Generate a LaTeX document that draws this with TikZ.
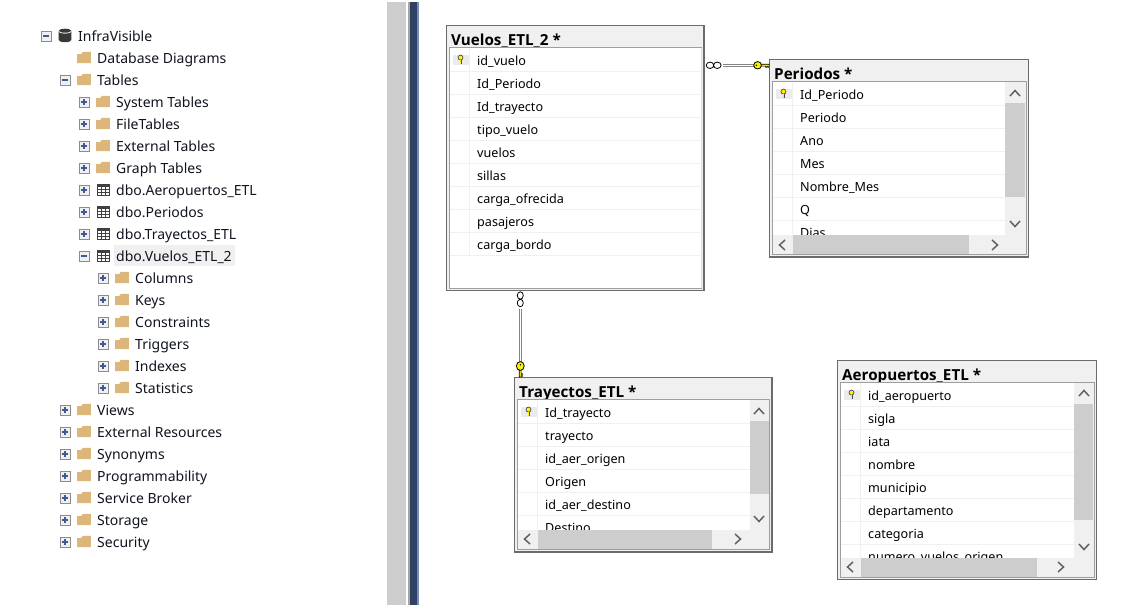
\documentclass[tikz,border=0pt]{standalone}
\usepackage{fontspec}
\setmainfont{Noto Sans}
\newfontfamily\titlefont{Open Sans}
\usetikzlibrary{
  positioning,
  calc
}
\definecolor{folderc}{HTML}{DCB67A}
\definecolor{panelc}{HTML}{F0F0F0}
\definecolor{thumbc}{HTML}{CDCDCD}
\definecolor{signc}{HTML}{3C5A96}
\definecolor{navyc}{HTML}{2F4264}
\definecolor{inkc}{HTML}{10141E}

\tikzset{
  treetext/.style={anchor=base west, inner sep=0pt, font=\fontsize{14}{16}\selectfont, text=inkc},
  rowtext/.style={anchor=base west, inner sep=0pt, font=\fontsize{12.6}{15}\selectfont, text=black},
  titletext/.style={anchor=base west, inner sep=0pt, font=\titlefont\fontsize{15.2}{17}\selectfont\bfseries, text=black},
  tableframe/.style={draw=black!58, line width=1.2pt, fill=panelc, inner sep=0pt},
  relation/.style={draw=black!48, line width=1pt, double=white, double distance=1.1pt},
  chevron/.style={draw=black!62, line width=1.5pt},
  pics/none/.style={code={}},
  pics/folder/.style={code={
    \fill[folderc] (-6.8,-3.4) -- (-6.8,5.6) -- (6.8,5.6) -- (6.8,-5.6) -- (-1,-5.6) -- (-3,-3.4) -- cycle;
  }},
  pics/tabicon/.style={code={
    \draw[black!75, line width=1pt] (-6,-5.5) rectangle (6,5.5);
    \fill[black!75] (-6,-5.5) rectangle (6,-2.5);
    \foreach \gx in {-2,2} \draw[black!75, line width=1pt] (\gx,-5.5) -- (\gx,5.5);
    \foreach \gy in {0.2,2.9} \draw[black!75, line width=1pt] (-6,\gy) -- (6,\gy);
  }},
  pics/dbicon/.style={code={
    \fill[black!78] (-6.3,-4.5) -- (-6.3,4.5) arc[start angle=180, end angle=360, x radius=6.3, y radius=-2.2] -- (6.3,-4.5) arc[start angle=0, end angle=180, x radius=6.3, y radius=2.4] -- cycle;
    \fill[black!78] (0,-4.6) ellipse[x radius=6.3, y radius=2.2];
    \draw[white, line width=.7pt] (-6.1,-4) arc[start angle=180, end angle=360, x radius=6.1, y radius=-1.6];
  }},
  pics/collapsebox/.style={code={
    \draw[black!45, fill=panelc, line width=.9pt] (-5,-5) rectangle (5,5);
    \draw[signc, line width=1.1pt] (-3,0) -- (3,0);
  }},
  pics/expandbox/.style={code={
    \draw[black!45, fill=panelc, line width=.9pt] (-5,-5) rectangle (5,5);
    \draw[signc, line width=1.1pt] (-3,0) -- (3,0) (0,-3) -- (0,3);
  }},
  pics/smallkey/.style={code={
    \fill[black!8] (-8,-5.5) rectangle (8,4.8);
    \draw[black!70, line width=2pt] (0,-0.6) -- (0,4.2);
    \draw[black!70, fill=yellow, line width=.7pt] (0,-2.4) circle[radius=2.5];
    \draw[yellow, line width=.8pt] (0,-0.4) -- (0,3.6);
  }},
  pics/keyright/.style={code={
    \draw[black, fill=yellow, line width=.8pt] (0,0) ellipse[x radius=3.9, y radius=3.7];
    \draw[black, fill=yellow, line width=.6pt] (3.6,-1.1) -- (11.5,-1.1) -- (11.5,.8) -- (10.5,2.4) -- (9.5,.8) -- (8.5,2.4) -- (7.5,.8) -- (3.6,.8) -- cycle;
    \fill[black] (-1.2,0) circle[radius=.8];
  }},
  pics/keydown/.style={code={
    \draw[black, fill=yellow, line width=.8pt] (0,0) ellipse[x radius=3.9, y radius=4.4];
    \draw[black, fill=yellow, line width=.6pt] (-1.1,4.3) -- (-1.1,11) -- (.8,11) -- (2.4,10) -- (.8,9) -- (2.4,8) -- (.8,7) -- (.8,4.3) -- cycle;
    \fill[black] (0,-1.2) circle[radius=.8];
  }}
}

% outer frame and title: name, x0, y0, x1, y1, title
\newcommand{\erdframe}[6]{
  \node[tableframe, minimum width=#4pt-#2pt, minimum height=#5pt-#3pt] (#1) at ({(#2+#4)/2},{(#3+#5)/2}) {};
  \node[titletext] (#1-title) at (#2+4.5,#3+19.8) {#6};
  \draw[black!38, line width=1pt] (#2+2.5,#3+22) rectangle (#4-2.5,#5-2.5);
}

% rows: name, x0, y0, x1 of the grid, y1 of the grid, list of fields
\newcommand{\erdrows}[6]{
  \begin{scope}
    \clip (#2+3,#3+22.5) rectangle (#4,#5);
    \fill[white] (#2+3,#3+22.5) rectangle (#4,#5);
    \foreach \rowname [count=\i] in {#6} {
      \draw[panelc, line width=1pt] (#2+23,#3+22.5+23*\i-23) -- (#2+23,#3+22.5+23*\i);
      \draw[panelc, line width=1pt] (#2+3,#3+22.5+23*\i) -- (#4,#3+22.5+23*\i);
      \node[rowtext] (#1-\i) at (#2+30.5,#3+16.8+23*\i) {\rowname};
    }
    \pic at (#2+14,#3+34.5) {smallkey};
  \end{scope}
}

\begin{document}
\begin{tikzpicture}[x=1pt, y=-1pt]

\useasboundingbox (0,0) rectangle (1129,605);
\fill[white] (0,0) rectangle (1129,605);

% Splitter
\fill[thumbc] (387,2) rectangle (406,605);
\fill[black!35] (408,2) rectangle (410,605);
\fill[navyc] (410,2) rectangle (417,605);
\fill[signc!70] (417,2) rectangle (418.5,605);

% Object tree
\fill[panelc] (114,244.5) rectangle (235,266);
\foreach \lvl/\boxkind/\iconkind/\rowname [count=\i] in {
  0/collapsebox/dbicon/InfraVisible,
  1/none/folder/Database Diagrams,
  1/collapsebox/folder/Tables,
  2/expandbox/folder/System Tables,
  2/expandbox/folder/FileTables,
  2/expandbox/folder/External Tables,
  2/expandbox/folder/Graph Tables,
  2/expandbox/tabicon/dbo.Aeropuertos\_ETL,
  2/expandbox/tabicon/dbo.Periodos,
  2/expandbox/tabicon/dbo.Trayectos\_ETL,
  2/collapsebox/tabicon/dbo.Vuelos\_ETL\_2,
  3/expandbox/folder/Columns,
  3/expandbox/folder/Keys,
  3/expandbox/folder/Constraints,
  3/expandbox/folder/Triggers,
  3/expandbox/folder/Indexes,
  3/expandbox/folder/Statistics,
  1/expandbox/folder/Views,
  1/expandbox/folder/External Resources,
  1/expandbox/folder/Synonyms,
  1/expandbox/folder/Programmability,
  1/expandbox/folder/Service Broker,
  1/expandbox/folder/Storage,
  1/expandbox/folder/Security%
} {
  \pgfmathsetmacro{\rowx}{78+19*\lvl}
  \pgfmathsetmacro{\rowy}{14+22*\i}
  \node[treetext] (tree-\i) at (\rowx,\rowy+5) {\rowname};
  \pic at (\rowx-13,\rowy-.5) {\iconkind};
  \pic at (\rowx-32,\rowy) {\boxkind};
}

% Tables
\erdframe{vuelos}{446.5}{25.5}{704}{290.5}{Vuelos\_ETL\_2 *}
\erdrows{vuelos}{446.5}{25.5}{701.5}{288}{id\_vuelo,Id\_Periodo,Id\_trayecto,tipo\_vuelo,vuelos,sillas,carga\_ofrecida,pasajeros,carga\_bordo}

\erdframe{periodos}{769.5}{59.5}{1028.5}{257}{Periodos *}
\erdrows{periodos}{769.5}{59.5}{1005}{235}{Id\_Periodo,Periodo,Ano,Mes,Nombre\_Mes,Q,Dias}

\erdframe{trayectos}{514.5}{377.5}{772}{552}{Trayectos\_ETL *}
\erdrows{trayectos}{514.5}{377.5}{750}{530}{Id\_trayecto,trayecto,id\_aer\_origen,Origen,id\_aer\_destino,Destino}

\erdframe{aeropuertos}{837.5}{360.5}{1096.5}{579.5}{Aeropuertos\_ETL *}
\erdrows{aeropuertos}{837.5}{360.5}{1074}{558}{id\_aeropuerto,sigla,iata,nombre,municipio,departamento,categoria,numero\_vuelos\_origen}

% Scroll bars
\fill[thumbc] (1005,103) rectangle (1025,197);
\fill[thumbc] (793,235) rectangle (969,254);
\draw[chevron] (1010,96) -- (1015,90.5) -- (1020,96) (1010,221) -- (1015,226.5) -- (1020,221);
\draw[chevron] (785,240) -- (779.5,245) -- (785,250) (992,240) -- (997.5,245) -- (992,250);

\fill[thumbc] (750,421) rectangle (769,494);
\fill[thumbc] (538,530) rectangle (712,549);
\draw[chevron] (754,414) -- (759,408.5) -- (764,414) (754,516) -- (759,521.5) -- (764,516);
\draw[chevron] (530,534) -- (524.5,539) -- (530,544) (735,534) -- (740.5,539) -- (735,544);

\fill[thumbc] (1074,404) rectangle (1093,520);
\fill[thumbc] (861,558) rectangle (1037,577);
\draw[chevron] (1079,396) -- (1084,390.5) -- (1089,396) (1079,544) -- (1084,549.5) -- (1089,544);
\draw[chevron] (853,562) -- (847.5,567) -- (853,572) (1058,562) -- (1063.5,567) -- (1058,572);

% Relations
\coordinate (relP) at (0,65.3);
\coordinate (relT) at (520.3,0);
\draw[relation, shorten <=18.7pt, shorten >=15pt] (vuelos.east |- relP) -- (periodos.west |- relP);
\draw[relation, shorten <=18pt, shorten >=15pt] (vuelos.south -| relT) -- (trayectos.north -| relT);
\draw[black, fill=white, line width=.8pt] (710,65.3) ellipse[x radius=3.8, y radius=3.2] (717.3,65.3) ellipse[x radius=3.8, y radius=3.2];
\draw[black, fill=white, line width=.8pt] (520.3,295.5) ellipse[x radius=3, y radius=3.7] (520.3,303) ellipse[x radius=3, y radius=3.7];
\pic at (757.6,65.3) {keyright};
\pic at (520.3,366) {keydown};

\end{tikzpicture}
\end{document}
